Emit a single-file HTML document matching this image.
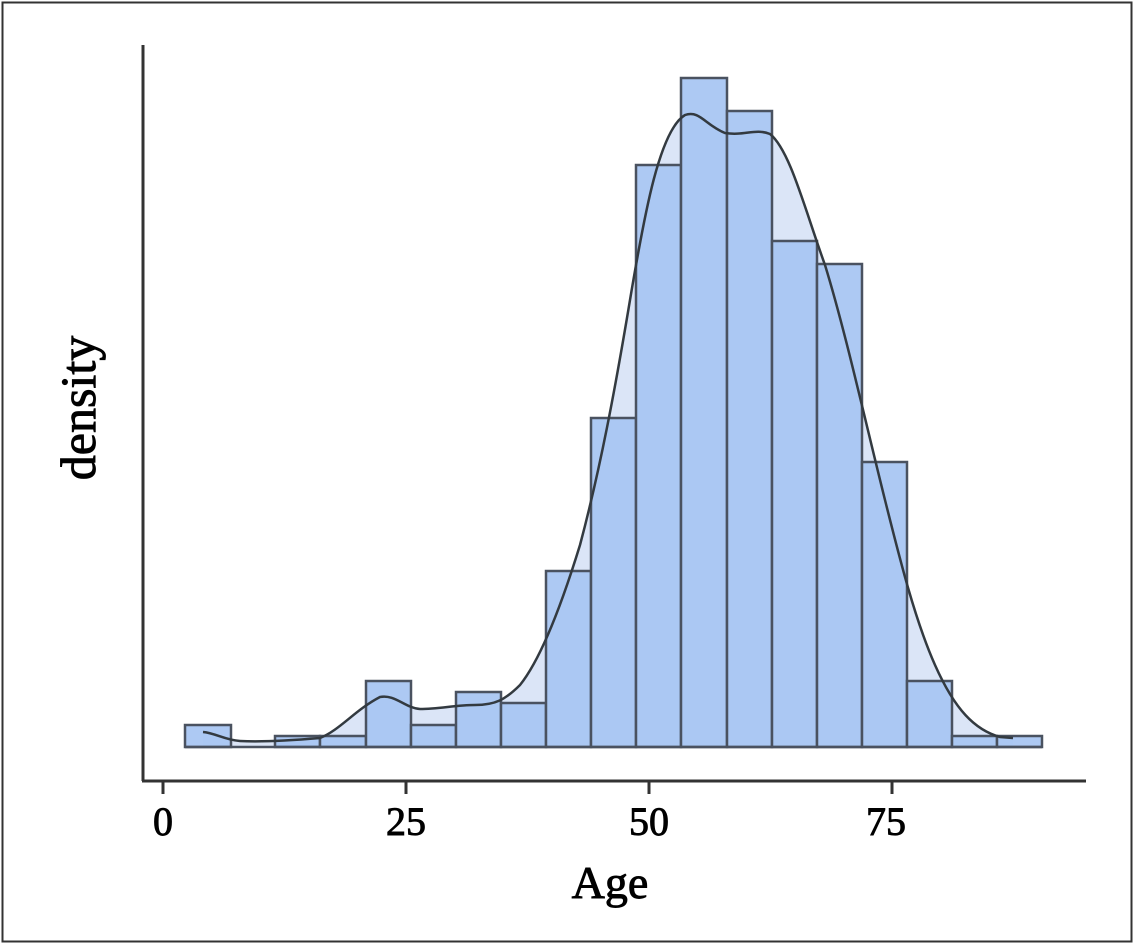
<!DOCTYPE html>
<html><head><meta charset="utf-8"><style>
html,body{margin:0;padding:0;background:#fff;width:1134px;height:945px;overflow:hidden}
text{font-family:"Liberation Serif",serif;fill:#000;stroke:#000;stroke-width:0.9}
</style></head><body>
<svg width="1134" height="945" viewBox="0 0 1134 945" xmlns="http://www.w3.org/2000/svg">
<rect x="2.5" y="2.5" width="1129" height="939" fill="#fff" stroke="#333" stroke-width="2"/>
<path d="M203,732 C215,733 225,740 240,741 C260,742 285,741 320,738 C340,730 355,710 380,697 C395,694 405,708 420,709 C440,709 455,705 475,705 C495,705 505,700 520,685 C540,660 560,610 580,545 C600,470 615,390 630,300 C645,210 660,130 685,115 C700,110 705,125 725,133 C745,136 755,128 770,134 C790,150 805,210 825,265 C845,330 865,420 885,500 C900,560 915,620 935,665 C955,710 975,730 1000,737 L1013,738 L1013,747 L203,747 Z" fill="#dbe5f7"/>
<g fill="#a9c6f2" fill-opacity="0.95" stroke="#4a5260" stroke-width="2.5">
<rect x="185" y="725" width="46" height="22"/>
<rect x="275" y="736" width="45" height="11"/>
<rect x="320" y="736" width="46" height="11"/>
<rect x="366" y="681" width="45" height="66"/>
<rect x="411" y="725" width="45" height="22"/>
<rect x="456" y="692" width="45" height="55"/>
<rect x="501" y="703" width="45" height="44"/>
<rect x="546" y="571" width="45" height="176"/>
<rect x="591" y="418" width="45" height="329"/>
<rect x="636" y="165" width="45" height="582"/>
<rect x="681" y="78" width="46" height="669"/>
<rect x="727" y="111" width="45" height="636"/>
<rect x="772" y="241" width="45" height="506"/>
<rect x="817" y="264" width="45" height="483"/>
<rect x="862" y="462" width="45" height="285"/>
<rect x="907" y="681" width="45" height="66"/>
<rect x="952" y="736" width="45" height="11"/>
<rect x="997" y="736" width="45" height="11"/>
</g>
<line x1="185" y1="747" x2="1042" y2="747" stroke="#4a5260" stroke-width="2.5"/>
<path d="M203,732 C215,733 225,740 240,741 C260,742 285,741 320,738 C340,730 355,710 380,697 C395,694 405,708 420,709 C440,709 455,705 475,705 C495,705 505,700 520,685 C540,660 560,610 580,545 C600,470 615,390 630,300 C645,210 660,130 685,115 C700,110 705,125 725,133 C745,136 755,128 770,134 C790,150 805,210 825,265 C845,330 865,420 885,500 C900,560 915,620 935,665 C955,710 975,730 1000,737 L1013,738" fill="none" stroke="#333a40" stroke-width="2.5"/>
<g stroke="#333" stroke-width="3">
<line x1="143" y1="45" x2="143" y2="781"/>
<line x1="142" y1="781" x2="1086" y2="781"/>
<line x1="163" y1="781" x2="163" y2="794"/>
<line x1="406" y1="781" x2="406" y2="794"/>
<line x1="649" y1="781" x2="649" y2="794"/>
<line x1="892" y1="781" x2="892" y2="794"/>
</g>
<g font-size="40" text-anchor="middle">
<text x="163" y="835">0</text>
<text x="406" y="835">25</text>
<text x="649" y="835">50</text>
<text x="886" y="835">75</text>
</g>
<text x="610" y="898" font-size="46" text-anchor="middle">Age</text>
<text transform="translate(95,408) rotate(-90)" font-size="50" text-anchor="middle">density</text>
</svg>
</body></html>
